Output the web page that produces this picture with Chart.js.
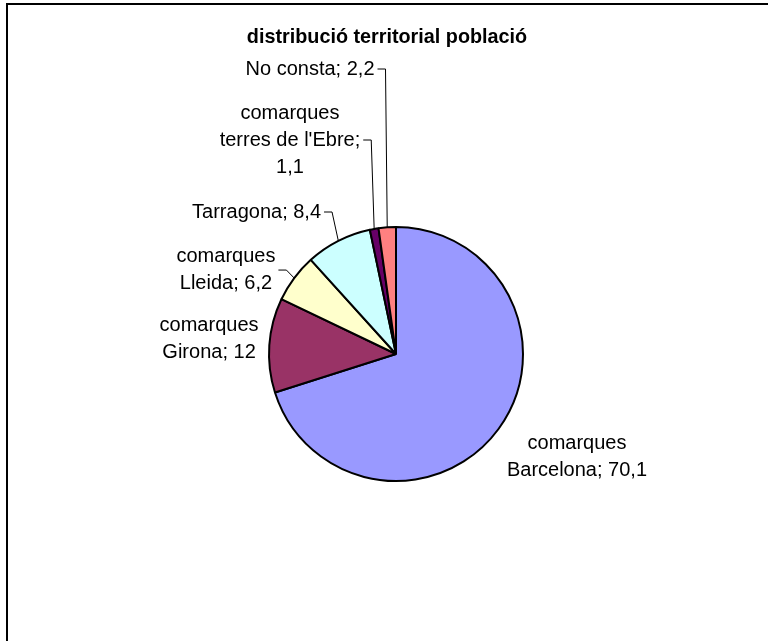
<!DOCTYPE html>
<html>
<head>
<meta charset="utf-8">
<script src="https://cdn.jsdelivr.net/npm/chart.js@4.4.0/dist/chart.umd.min.js"></script>
<style>
  html, body { margin: 0; padding: 0; background: #fff; }
  #wrap { position: relative; width: 768px; height: 641px; }
</style>
</head>
<body>
<div id="wrap"><canvas id="pieChart"></canvas></div>
<script>
const title = 'distribució territorial població';
const categories = ['comarques Barcelona', 'comarques Girona', 'comarques Lleida', 'Tarragona', "comarques terres de l'Ebre", 'No consta'];
const values = [70.1, 12, 6.2, 8.4, 1.1, 2.2];
const colors = ['#9999FF', '#993366', '#FFFFCC', '#CCFFFF', '#660066', '#FF8080'];

// label block centre relative to pie centre, in radius units; wrap width in px
const labelLayout = [
    { dx: 1.425, dy: 0.81, wrap: 160, leader: false },
    { dx: -1.472, dy: -0.118, wrap: 105, leader: false },
    { dx: -1.339, dy: -0.661, wrap: 105, leader: true },
    { dx: -1.098, dy: -1.118, wrap: 220, leader: true },
    { dx: -0.835, dy: -1.685, wrap: 150, leader: true },
    { dx: -0.677, dy: -2.244, wrap: 220, leader: true }
];

const FONT = '"Liberation Sans", Arial, sans-serif';

const wrapText = (ctx, text, maxW) => {
    const words = text.split(' ');
    const lines = [];
    let cur = '';
    words.forEach(w => {
        const test = cur ? cur + ' ' + w : w;
        if (cur && ctx.measureText(test).width > maxW) {
            lines.push(cur);
            cur = w;
        } else {
            cur = test;
        }
    });
    if (cur) lines.push(cur);
    return lines;
};

const labelsPlugin = {
    id: 'pieLabels',
    afterDraw(chart) {
        const ctx = chart.ctx;
        ctx.save();

        // chart area frame (only top and left edges are inside the picture)
        ctx.strokeStyle = '#000';
        ctx.lineWidth = 2;
        ctx.beginPath();
        ctx.moveTo(7, 700);
        ctx.lineTo(7, 4);
        ctx.lineTo(800, 4);
        ctx.stroke();

        // title
        ctx.fillStyle = '#000';
        ctx.font = 'bold 19.8px ' + FONT;
        ctx.textAlign = 'center';
        ctx.textBaseline = 'middle';
        ctx.fillText(title, 387, 38);

        const meta = chart.getDatasetMeta(0);
        ctx.font = '20px ' + FONT;
        const lineH = 27;
        meta.data.forEach((arc, i) => {
            const p = arc.getProps(['x', 'y', 'startAngle', 'endAngle', 'outerRadius'], true);
            const r = p.outerRadius;
            const lay = labelLayout[i];
            const cx = p.x + lay.dx * r;
            const cy = p.y + lay.dy * r;
            const text = categories[i] + '; ' + String(values[i]).replace('.', ',');
            const lines = wrapText(ctx, text, lay.wrap);
            const top = cy - (lines.length - 1) * lineH / 2;
            let maxW = 0;
            lines.forEach((ln, k) => {
                ctx.fillText(ln, cx, top + k * lineH);
                maxW = Math.max(maxW, ctx.measureText(ln).width);
            });
            if (lay.leader) {
                const mid = (p.startAngle + p.endAngle) / 2;
                const ex = p.x + Math.cos(mid) * r;
                const ey = p.y + Math.sin(mid) * r;
                const sx = cx + maxW / 2 + 3;
                ctx.strokeStyle = '#000';
                ctx.lineWidth = 1;
                ctx.beginPath();
                ctx.moveTo(sx, cy);
                ctx.lineTo(sx + 8, cy);
                ctx.lineTo(ex, ey);
                ctx.stroke();
            }
        });
        ctx.restore();
    }
};

new Chart(document.getElementById('pieChart').getContext('2d'), {
    type: 'pie',
    data: {
        labels: categories,
        datasets: [{
            data: values,
            backgroundColor: colors,
            borderColor: '#000',
            borderWidth: 2
        }]
    },
    options: {
        responsive: true,
        maintainAspectRatio: false,
        animation: false,
        radius: 127,
        events: [],
        layout: { padding: { left: 24, right: 0, top: 67, bottom: 0 } },
        plugins: {
            legend: { display: false },
            title: { display: false },
            tooltip: { enabled: false }
        }
    },
    plugins: [labelsPlugin]
});
</script>
</body>
</html>
